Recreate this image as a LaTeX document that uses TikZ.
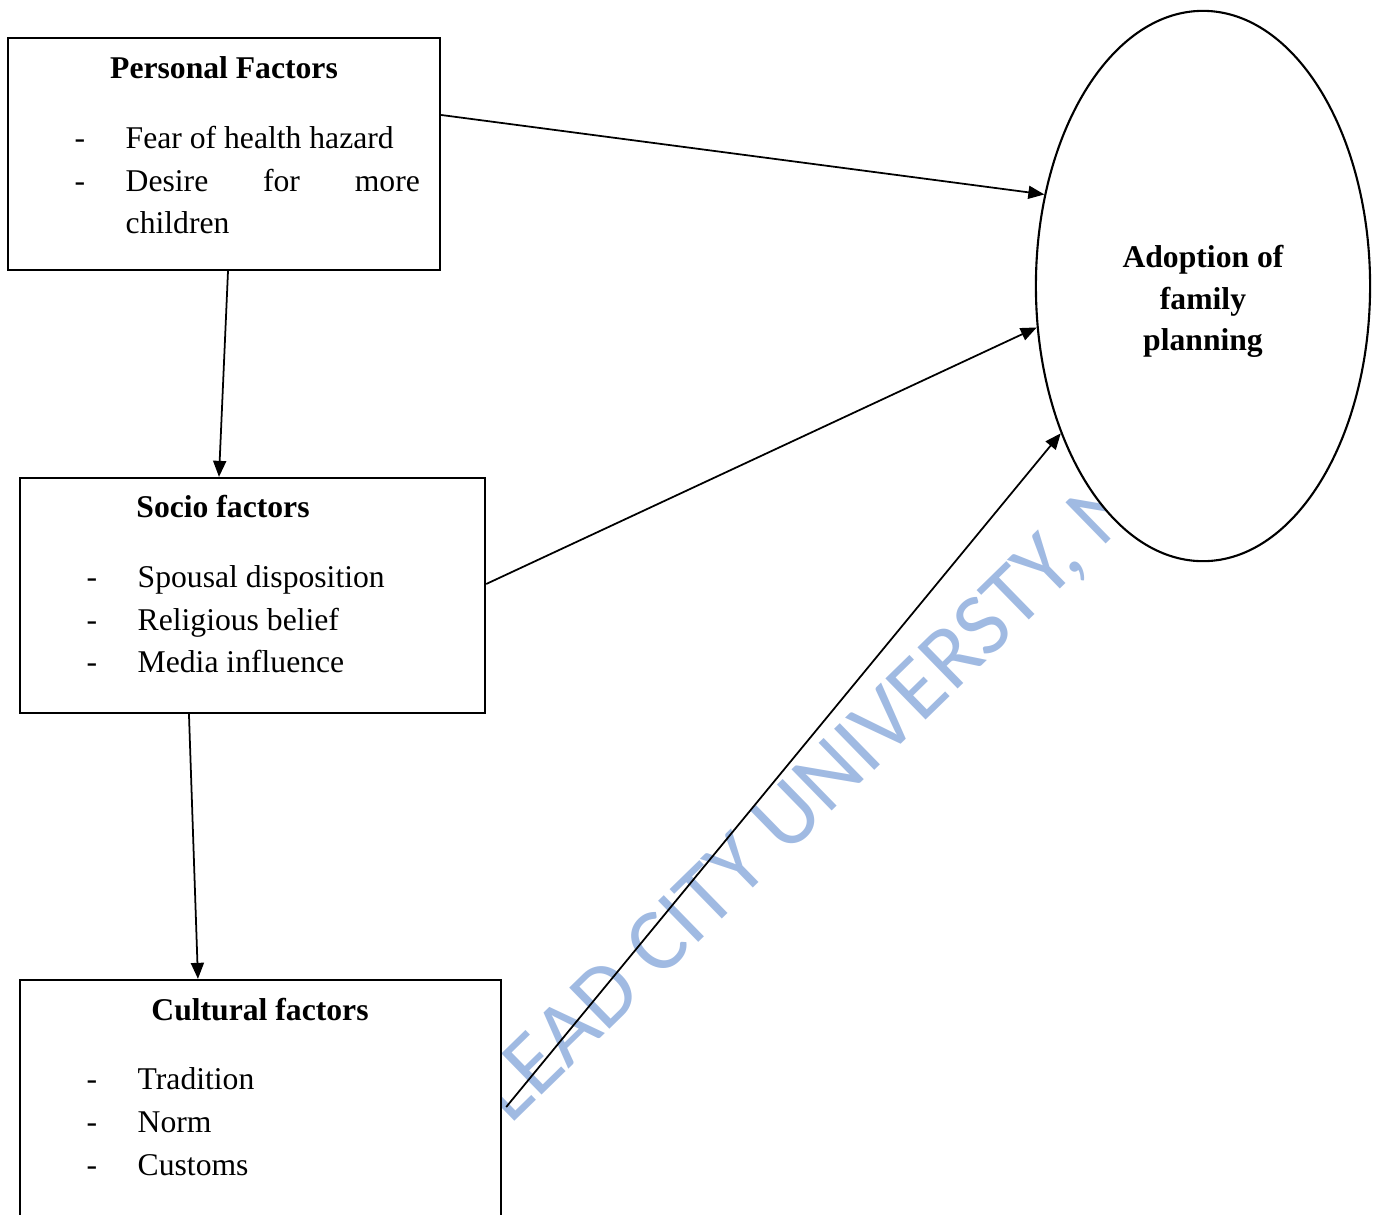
\documentclass[tikz,border=0pt]{standalone}
\usepackage{fontspec}
\usetikzlibrary{arrows.meta,shapes.geometric}
\newfontfamily\diagfont{Liberation Serif}
\newfontfamily\markfont{Carlito}
\definecolor{markblue}{RGB}{160,186,226}
\tikzstyle{factorbox}=[
    draw, fill=white,
    line width=0.6pt,
    inner sep=0pt,
]
\tikzstyle{boxtext}=[
    inner sep=0pt,
    font=\diagfont\fontsize{9}{12}\selectfont,
]
\tikzstyle{boxtitle}=[boxtext, anchor=base, font=\diagfont\fontsize{9}{12}\selectfont\bfseries]
\tikzstyle{link}=[
    -{Triangle[length=0.16cm,width=0.13cm]},
    line width=0.5pt,
]

\begin{document}
\begin{tikzpicture}[x=0.01cm, y=-0.01cm]
        \useasboundingbox (0,0) rectangle (1378,1214);
        % watermark behind everything
        \node (mark) at (510,1126) [anchor=base west, rotate=44.3, inner sep=0pt, text=markblue, font=\markfont\fontsize{25.5}{25.5}\selectfont] {LEAD CITY UNIVERSTY, N};

        \node (adoption) at (1203,286) [ellipse, draw, fill=white, line width=0.6pt, minimum width=3.34cm, minimum height=5.5cm] {};
        \node (personal) at (224,154) [factorbox, minimum width=4.32cm, minimum height=2.32cm] {};
        \node (socio) at (252.5,595.5) [factorbox, minimum width=4.65cm, minimum height=2.35cm] {};
        \node (cultural) at (260.5,1130) [factorbox, minimum width=4.81cm, minimum height=3cm] {};

        % personal
        \node (ptitle) at (224,78) [boxtitle] {Personal Factors};
        \node (pdash1) at (80,148) [boxtext, anchor=base] {-};
        \node (pitem1) at (125,148) [boxtext, anchor=base west] {Fear of health hazard};
        \node (pdash2) at (80,191) [boxtext, anchor=base] {-};
        \node (pitem2) at (125,191) [boxtext, anchor=base west] {\makebox[2.94cm][s]{Desire for more}};
        \node (pitem3) at (125,233) [boxtext, anchor=base west] {children};

        % socio
        \node (stitle) at (223,517) [boxtitle] {Socio factors};
        \node (sdash1) at (92,587) [boxtext, anchor=base] {-};
        \node (sitem1) at (137,587) [boxtext, anchor=base west] {Spousal disposition};
        \node (sdash2) at (92,630) [boxtext, anchor=base] {-};
        \node (sitem2) at (137,630) [boxtext, anchor=base west] {Religious belief};
        \node (sdash3) at (92,672) [boxtext, anchor=base] {-};
        \node (sitem3) at (137,672) [boxtext, anchor=base west] {Media influence};

        % cultural
        \node (ctitle) at (260,1020) [boxtitle] {Cultural factors};
        \node (cdash1) at (92,1089) [boxtext, anchor=base] {-};
        \node (citem1) at (137,1089) [boxtext, anchor=base west] {Tradition};
        \node (cdash2) at (92,1132) [boxtext, anchor=base] {-};
        \node (citem2) at (137,1132) [boxtext, anchor=base west] {Norm};
        \node (cdash3) at (92,1175) [boxtext, anchor=base] {-};
        \node (citem3) at (137,1175) [boxtext, anchor=base west] {Customs};

        % outcome
        \node (atitle1) at (1203,267) [boxtitle] {Adoption of};
        \node (atitle2) at (1203,309) [boxtitle] {family};
        \node (atitle3) at (1203,350) [boxtitle] {planning};

        \draw[link] ([yshift=0.39cm]personal.east) -- (adoption.150);
        \draw[link] ([xshift=0.04cm]personal.south) -- ([xshift=-0.335cm]socio.north);
        \draw[link] ([yshift=0.115cm]socio.east) -- (adoption.194);
        \draw[link] ([xshift=-0.635cm]socio.south) -- ([xshift=-0.625cm]cultural.north);
        \draw[link] ([xshift=0.04cm,yshift=0.23cm]cultural.east) -- (adoption.226);
    \end{tikzpicture}
\end{document}
